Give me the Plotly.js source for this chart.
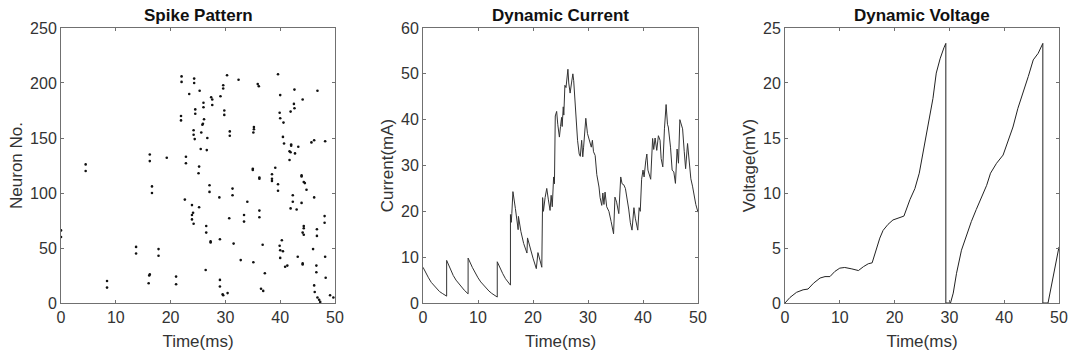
<!DOCTYPE html>
<html>
<head>
<meta charset="utf-8">
<script src="https://cdn.plot.ly/plotly-3.0.1.min.js"></script>
<style>html,body{margin:0;padding:0;background:#fff;}#chart{width:1073px;height:358px;}</style>
</head>
<body>
<div id="chart"></div>
<script>
// ---- Spike pattern data (time in ms, neuron index) ----
var spikeTimes = [
  0, 0, 4.5, 4.5, 8.4, 8.4, 13.7, 13.7, 16.2, 16.2, 16.6, 16.6, 16.2, 16.1, 16.0,
  17.8, 17.8, 19.3, 21.0, 21.0, 22.0, 22.0, 21.9, 21.9, 22.6, 22.8, 22.8,
  24.3, 24.3, 23.4, 25.3, 24.5, 24.5, 24.2, 24.2, 24.4, 25.6, 25.5, 26.6, 26.7,
  26.0, 26.0, 26.1, 25.9, 25.8, 25.2, 25.1, 25.2, 23.9, 24.1, 23.9, 23.9, 24.2,
  27.1, 27.1, 26.5, 26.5, 27.3, 27.3, 28.9, 29.0, 27.4, 27.6, 27.6, 29.1,
  29.6, 29.6, 29.8, 29.8, 30.3, 32.4, 30.8, 30.8, 30.7, 31.3, 31.3, 31.5,
  29.0, 29.0, 29.5, 29.6, 30.4, 26.4, 32.8, 33.4, 33.4, 34.0, 35.0, 35.0,
  35.2, 35.2, 35.1, 35.9, 36.1, 36.2, 36.2, 36.2, 36.2, 36.8, 35.1, 37.2, 36.5, 36.9,
  39.6, 40.0, 39.9, 40.0, 40.6, 40.5, 40.7, 39.1, 38.5, 38.5, 38.5, 39.6, 39.6,
  40.3, 39.9, 40.0, 40.5, 40.0, 40.9, 41.3, 41.9, 42.5, 42.6, 42.6, 44.1,
  41.7, 41.9, 42.0, 42.0, 42.7, 43.3, 41.7, 43.9, 43.9, 44.3, 44.5, 44.8,
  42.3, 42.3, 41.9, 43.0, 43.9, 46.2, 44.3, 44.3, 44.1, 44.3, 43.2, 44.1, 44.1,
  45.7, 46.2, 48.2, 46.8, 46.7, 46.7, 46.0, 48.1, 48.1, 48.2, 48.3, 46.6, 46.6,
  46.2, 46.3, 46.8, 47.1, 47.3, 49.1, 49.7
];
var spikeNeurons = [
  66, 60, 126, 120, 20, 14, 51, 45, 135, 129, 106, 100, 26, 25, 18,
  49, 43, 132, 24, 17, 206, 201, 170, 166, 94, 133, 127,
  204, 200, 190, 193, 176, 172, 157, 153, 149, 155, 140, 139, 150,
  182, 178, 167, 163, 162, 124, 118, 87, 89, 82, 80, 76, 72,
  107, 101, 70, 64, 56, 55, 96, 58, 187, 185, 180, 188,
  198, 195, 175, 171, 207, 203, 156, 152, 77, 104, 98, 54,
  21, 15, 8, 7, 9, 30, 39, 80, 74, 92, 122, 121,
  160, 158, 155, 199, 197, 114, 113, 84, 78, 53, 37, 27, 13, 11,
  208, 189, 173, 168, 164, 151, 145, 123, 117, 113, 111, 108, 102,
  57, 52, 48, 47, 41, 33, 34, 174, 181, 177, 194, 185,
  138, 137, 144, 143, 136, 142, 130, 116, 115, 110, 109, 103,
  98, 92, 86, 85, 91, 96, 70, 68, 64, 62, 42, 36, 35,
  146, 148, 147, 193, 67, 61, 49, 79, 73, 42, 23, 34, 28,
  16, 10, 5, 3, 1, 7, 5
];

// ---- Dynamic current (time in ms, current in mA) ----
var currentTime = [
  0, 0.5, 1, 1.5, 2, 2.5, 3, 3.5, 4.3,
  4.3, 5, 5.5, 6, 6.5, 7, 7.5, 8.2,
  8.2, 9, 9.5, 10, 10.5, 11, 11.5, 12, 12.5, 13, 13.5,
  13.5, 14, 14.5, 15, 15.5, 15.9,
  15.9, 16.05, 16.15, 16.35, 16.8, 17.2, 17.3, 17.35, 17.6, 17.8, 18.3, 18.9, 19.0, 19.5, 20.0, 20.6,
  20.9, 21.3, 21.6, 21.75, 21.9, 22.2, 22.5, 22.8, 23.1, 23.3, 23.5, 23.75, 23.9,
  24.05, 24.3, 24.5, 24.8, 25.0, 25.2, 25.3, 25.5, 25.6, 25.8, 26.0, 26.2, 26.35, 26.5, 26.75,
  27.0, 27.25, 27.4, 27.7, 28.1, 28.4, 28.6, 28.85, 29.05, 29.2, 29.4, 29.6, 29.9, 30.2, 30.4,
  30.6, 30.8, 31.0, 31.3, 31.6, 32.0, 32.2, 32.5, 32.7, 32.9, 33.1, 33.4, 33.8, 34.2, 34.65,
  34.9, 35.2, 35.6, 35.95, 36.2, 36.5, 36.8, 37.1, 37.4, 37.7, 38.0, 38.35, 38.6, 39.05,
  39.3, 39.5, 39.75, 40.0, 40.2, 40.5, 40.7, 40.9, 41.2, 41.4, 41.75, 41.95, 42.2, 42.5,
  42.8, 43.1, 43.3, 43.6, 43.9, 44.2, 44.45, 44.6, 45.0, 45.3, 45.6, 45.9, 46.2, 46.45,
  46.7, 47.0, 47.2, 47.5, 47.75, 48.1, 48.4, 48.7, 49.0, 49.3, 49.6, 50
];
var currentValues = [
  7.8, 6.5, 5.5, 4.5, 3.8, 3.1, 2.5, 2.1, 1.5,
  9.3, 7.2, 6.0, 5.0, 4.2, 3.5, 2.8, 2.0,
  9.8, 7.7, 6.5, 5.5, 4.6, 3.9, 3.2, 2.6, 2.1, 1.7, 1.3,
  9.0, 7.6, 6.4, 5.3, 4.5, 3.9,
  19.3, 17.6, 19.5, 24.3, 20.6, 17.3, 16.0, 18.9, 16.8, 15.6, 13.0, 10.9, 14.2, 11.8, 9.8, 7.5,
  11.0, 9.2, 7.8, 23.0, 20.0, 23.0, 25.0, 22.5, 20.2, 23.5, 21.0, 27.5, 26.0,
  40.8, 41.8, 39.0, 36.2, 38.5, 40.5, 38.5, 42.8, 41.0, 47.5, 47.0, 50.5, 51.0, 48.0, 45.8,
  48.0, 50.0, 48.5, 42.0, 35.5, 32.5, 32.0, 35.5, 31.9, 34.0, 38.5, 40.3, 37.0, 35.5, 34.8,
  34.0, 35.5, 33.0, 32.2, 28.0, 25.3, 23.0, 21.3, 24.0, 21.5, 24.2, 21.0, 20.0, 17.8, 15.1,
  23.1, 22.0, 19.5, 27.5, 26.0, 25.8, 25.0, 23.0, 20.5, 17.5, 15.9, 20.8, 18.5, 15.9,
  20.8, 20.0, 27.0, 29.0, 27.5, 31.0, 32.5, 29.0, 28.0, 27.0, 35.9, 33.5, 36.0, 33.3,
  36.5, 35.5, 31.5, 29.7, 38.0, 43.3, 39.0, 38.4, 34.0, 29.0, 28.6, 26.1, 33.6, 30.5,
  40.0, 38.4, 38.0, 33.0, 29.3, 34.8, 30.0, 27.1, 25.5, 23.1, 21.5, 19.8
];

// ---- Dynamic voltage (time in ms, voltage in mV) ----
var voltageTime = [
  0, 0.9, 2.1, 3.3, 4.2, 5.2, 6.4, 7.3, 8.2, 9.1, 10.0, 10.9, 12.2, 13.4, 14.3, 15.2, 15.9,
  16.7, 17.3, 17.9, 18.8, 19.7, 20.7, 21.7, 22.8, 23.7, 24.5, 25.3, 26.1, 27.0, 27.6, 28.3, 29.0, 29.35,
  29.35, 30.2, 30.7, 31.3, 32.2, 33.1, 34.0, 34.9, 35.8, 36.8, 37.5, 38.6, 39.8, 40.7, 41.6,
  42.5, 43.4, 44.4, 45.3, 46.2, 47.05,
  47.05, 48.0, 48.6, 49.2, 50
];
var voltageValues = [
  0, 0.5, 0.97, 1.2, 1.27, 1.8, 2.27, 2.4, 2.4, 2.87, 3.17, 3.23, 3.1, 2.95, 3.3, 3.57, 3.65,
  4.9, 5.9, 6.6, 7.15, 7.55, 7.7, 7.9, 9.4, 10.4, 11.8, 13.9, 16.0, 18.6, 20.9, 22.2, 23.2, 23.6,
  0, 0, 0.9, 2.7, 4.8, 6.2, 7.4, 8.5, 9.5, 10.7, 11.8, 12.7, 13.45, 14.7, 16.0,
  17.7, 19.0, 20.6, 22.1, 22.7, 23.6,
  0, 0, 1.5, 3.3, 5.1
];

var xTicks = [0, 10, 20, 30, 40, 50];

var FONT = '"Liberation Sans", Arial, Helvetica, sans-serif';
var axisCol = '#707070';
var tickFont = {family: FONT, size: 16, color: '#333333'};
var titleFont = {family: FONT, size: 17, color: '#333333'};

function xa(domain) {
  return {
    domain: domain, range: [0, 50], tickvals: xTicks, ticks: 'inside', ticklen: 3,
    tickcolor: axisCol, showline: true, linecolor: axisCol, linewidth: 1, mirror: 'ticks',
    showgrid: false, zeroline: false, tickfont: tickFont, fixedrange: true,
    title: {text: 'Time(ms)', font: titleFont, standoff: 9}
  };
}
function ya(range, dtick, title, anchor) {
  return {
    domain: [0.1536, 0.9218], range: range, dtick: dtick, tick0: 0, ticks: 'inside', ticklen: 3,
    tickcolor: axisCol, showline: true, linecolor: axisCol, linewidth: 1, mirror: 'ticks',
    showgrid: false, zeroline: false, tickfont: tickFont, anchor: anchor, fixedrange: true,
    title: {text: title, font: titleFont, standoff: 3}
  };
}

var d1 = [61/1073, 335/1073], d2 = [423/1073, 698/1073], d3 = [785/1073, 1059/1073];

var traces = [
  {x: spikeTimes, y: spikeNeurons, type: 'scatter', mode: 'markers', xaxis: 'x', yaxis: 'y',
   marker: {size: 2.6, color: '#111111'}, hoverinfo: 'x+y'},
  {x: currentTime, y: currentValues, type: 'scatter', mode: 'lines', xaxis: 'x2', yaxis: 'y2',
   line: {color: '#333333', width: 1}},
  {x: voltageTime, y: voltageValues, type: 'scatter', mode: 'lines', xaxis: 'x3', yaxis: 'y3',
   line: {color: '#222222', width: 1}}
];

function panelTitle(text, dom) {
  return {text: '<b>' + text + '</b>', x: (dom[0] + dom[1]) / 2, y: (358 - 15) / 358,
    xref: 'paper', yref: 'paper', xanchor: 'center', yanchor: 'middle', showarrow: false,
    font: {family: FONT, size: 17, color: '#111111'}};
}

var layout = {
  width: 1073, height: 358, margin: {l: 0, r: 0, t: 0, b: 0},
  paper_bgcolor: '#ffffff', plot_bgcolor: '#ffffff', showlegend: false,
  xaxis: Object.assign(xa(d1), {anchor: 'y'}),
  yaxis: ya([0, 250], 50, 'Neuron No.', 'x'),
  xaxis2: Object.assign(xa(d2), {anchor: 'y2'}),
  yaxis2: ya([0, 60], 10, 'Current(mA)', 'x2'),
  xaxis3: Object.assign(xa(d3), {anchor: 'y3'}),
  yaxis3: ya([0, 25], 5, 'Voltage(mV)', 'x3'),
  annotations: [
    panelTitle('Spike Pattern', d1),
    panelTitle('Dynamic Current', d2),
    panelTitle('Dynamic Voltage', d3)
  ]
};

Plotly.newPlot('chart', traces, layout, {displayModeBar: false, staticPlot: true});
</script>
</body>
</html>
